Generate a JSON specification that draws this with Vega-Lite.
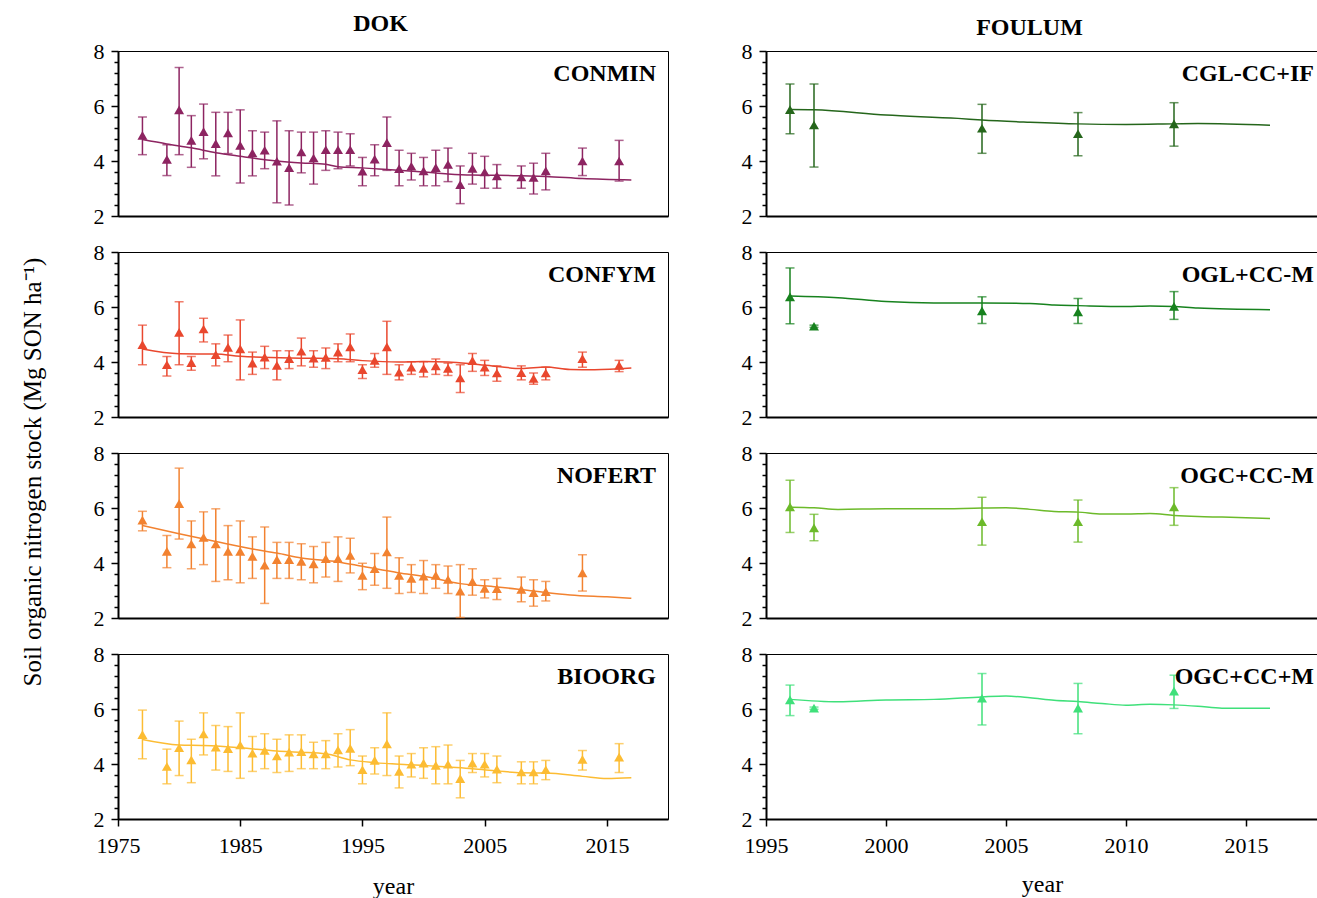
{
  "$schema": "https://vega.github.io/schema/vega-lite/v6.json",
  "background": "white",
  "padding": {"left": 20, "top": 11, "right": 0, "bottom": 0},
  "title": {"text": "Soil organic nitrogen stock (Mg SON ha⁻¹)", "orient": "left", "anchor": "middle", "fontSize": 25, "fontWeight": "normal", "offset": 47, "dx": -17},
  "datasets": {
    "d": [
      {"t":"CONMIN","k":"o","year":1977,"v":4.93,"lo":4.23,"hi":5.60},
      {"t":"CONMIN","k":"o","year":1979,"v":4.06,"lo":3.47,"hi":4.59},
      {"t":"CONMIN","k":"o","year":1980,"v":5.86,"lo":4.23,"hi":7.40},
      {"t":"CONMIN","k":"o","year":1981,"v":4.75,"lo":3.77,"hi":5.65},
      {"t":"CONMIN","k":"o","year":1982,"v":5.07,"lo":4.08,"hi":6.07},
      {"t":"CONMIN","k":"o","year":1983,"v":4.63,"lo":3.46,"hi":5.77},
      {"t":"CONMIN","k":"o","year":1984,"v":5.02,"lo":4.27,"hi":5.77},
      {"t":"CONMIN","k":"o","year":1985,"v":4.57,"lo":3.20,"hi":5.86},
      {"t":"CONMIN","k":"o","year":1986,"v":4.29,"lo":3.46,"hi":5.10},
      {"t":"CONMIN","k":"o","year":1987,"v":4.39,"lo":3.72,"hi":5.05},
      {"t":"CONMIN","k":"o","year":1988,"v":3.99,"lo":2.48,"hi":5.46},
      {"t":"CONMIN","k":"o","year":1989,"v":3.76,"lo":2.40,"hi":5.10},
      {"t":"CONMIN","k":"o","year":1990,"v":4.33,"lo":3.57,"hi":5.05},
      {"t":"CONMIN","k":"o","year":1991,"v":4.11,"lo":3.16,"hi":5.05},
      {"t":"CONMIN","k":"o","year":1992,"v":4.41,"lo":3.66,"hi":5.10},
      {"t":"CONMIN","k":"o","year":1993,"v":4.41,"lo":3.72,"hi":5.05},
      {"t":"CONMIN","k":"o","year":1994,"v":4.41,"lo":3.82,"hi":4.99},
      {"t":"CONMIN","k":"o","year":1995,"v":3.63,"lo":3.10,"hi":4.13},
      {"t":"CONMIN","k":"o","year":1996,"v":4.07,"lo":3.46,"hi":4.59},
      {"t":"CONMIN","k":"o","year":1997,"v":4.67,"lo":3.66,"hi":5.60},
      {"t":"CONMIN","k":"o","year":1998,"v":3.72,"lo":3.10,"hi":4.39},
      {"t":"CONMIN","k":"o","year":1999,"v":3.81,"lo":3.31,"hi":4.28},
      {"t":"CONMIN","k":"o","year":2000,"v":3.64,"lo":3.10,"hi":4.13},
      {"t":"CONMIN","k":"o","year":2001,"v":3.76,"lo":3.10,"hi":4.39},
      {"t":"CONMIN","k":"o","year":2002,"v":3.88,"lo":3.25,"hi":4.47},
      {"t":"CONMIN","k":"o","year":2003,"v":3.14,"lo":2.45,"hi":3.82},
      {"t":"CONMIN","k":"o","year":2004,"v":3.73,"lo":3.16,"hi":4.28},
      {"t":"CONMIN","k":"o","year":2005,"v":3.60,"lo":3.01,"hi":4.17},
      {"t":"CONMIN","k":"o","year":2006,"v":3.46,"lo":3.01,"hi":3.87},
      {"t":"CONMIN","k":"o","year":2008,"v":3.42,"lo":3.01,"hi":3.82},
      {"t":"CONMIN","k":"o","year":2009,"v":3.40,"lo":2.80,"hi":3.92},
      {"t":"CONMIN","k":"o","year":2010,"v":3.64,"lo":2.95,"hi":4.28},
      {"t":"CONMIN","k":"o","year":2013,"v":4.00,"lo":3.47,"hi":4.47},
      {"t":"CONMIN","k":"o","year":2016,"v":4.00,"lo":3.27,"hi":4.75},
      {"t":"CONMIN","k":"m","year":1977,"v":4.78},
      {"t":"CONMIN","k":"m","year":1979,"v":4.62},
      {"t":"CONMIN","k":"m","year":1981,"v":4.48},
      {"t":"CONMIN","k":"m","year":1983,"v":4.30},
      {"t":"CONMIN","k":"m","year":1985,"v":4.17},
      {"t":"CONMIN","k":"m","year":1988,"v":4.00},
      {"t":"CONMIN","k":"m","year":1990,"v":3.93},
      {"t":"CONMIN","k":"m","year":1992,"v":3.88},
      {"t":"CONMIN","k":"m","year":1993,"v":3.79},
      {"t":"CONMIN","k":"m","year":1995,"v":3.75},
      {"t":"CONMIN","k":"m","year":1997,"v":3.69},
      {"t":"CONMIN","k":"m","year":2000,"v":3.60},
      {"t":"CONMIN","k":"m","year":2002,"v":3.53},
      {"t":"CONMIN","k":"m","year":2004,"v":3.49},
      {"t":"CONMIN","k":"m","year":2006,"v":3.48},
      {"t":"CONMIN","k":"m","year":2008,"v":3.46},
      {"t":"CONMIN","k":"m","year":2010,"v":3.44},
      {"t":"CONMIN","k":"m","year":2013,"v":3.36},
      {"t":"CONMIN","k":"m","year":2017,"v":3.31},

      {"t":"CONFYM","k":"o","year":1977,"v":4.63,"lo":3.90,"hi":5.34},
      {"t":"CONFYM","k":"o","year":1979,"v":3.90,"lo":3.49,"hi":4.20},
      {"t":"CONFYM","k":"o","year":1980,"v":5.08,"lo":3.90,"hi":6.19},
      {"t":"CONFYM","k":"o","year":1981,"v":3.98,"lo":3.70,"hi":4.20},
      {"t":"CONFYM","k":"o","year":1982,"v":5.20,"lo":4.73,"hi":5.59},
      {"t":"CONFYM","k":"o","year":1983,"v":4.27,"lo":3.86,"hi":4.66},
      {"t":"CONFYM","k":"o","year":1984,"v":4.53,"lo":4.01,"hi":4.98},
      {"t":"CONFYM","k":"o","year":1985,"v":4.48,"lo":3.35,"hi":5.53},
      {"t":"CONFYM","k":"o","year":1986,"v":3.96,"lo":3.55,"hi":4.36},
      {"t":"CONFYM","k":"o","year":1987,"v":4.18,"lo":3.76,"hi":4.57},
      {"t":"CONFYM","k":"o","year":1988,"v":3.88,"lo":3.35,"hi":4.41},
      {"t":"CONFYM","k":"o","year":1989,"v":4.12,"lo":3.76,"hi":4.41},
      {"t":"CONFYM","k":"o","year":1990,"v":4.39,"lo":3.86,"hi":4.87},
      {"t":"CONFYM","k":"o","year":1991,"v":4.14,"lo":3.81,"hi":4.41},
      {"t":"CONFYM","k":"o","year":1992,"v":4.17,"lo":3.76,"hi":4.51},
      {"t":"CONFYM","k":"o","year":1993,"v":4.36,"lo":4.01,"hi":4.66},
      {"t":"CONFYM","k":"o","year":1994,"v":4.55,"lo":4.01,"hi":5.02},
      {"t":"CONFYM","k":"o","year":1995,"v":3.72,"lo":3.40,"hi":3.90},
      {"t":"CONFYM","k":"o","year":1996,"v":4.06,"lo":3.81,"hi":4.31},
      {"t":"CONFYM","k":"o","year":1997,"v":4.55,"lo":3.55,"hi":5.48},
      {"t":"CONFYM","k":"o","year":1998,"v":3.63,"lo":3.35,"hi":3.90},
      {"t":"CONFYM","k":"o","year":1999,"v":3.81,"lo":3.55,"hi":4.01},
      {"t":"CONFYM","k":"o","year":2000,"v":3.77,"lo":3.46,"hi":4.01},
      {"t":"CONFYM","k":"o","year":2001,"v":3.86,"lo":3.55,"hi":4.11},
      {"t":"CONFYM","k":"o","year":2002,"v":3.77,"lo":3.51,"hi":3.96},
      {"t":"CONFYM","k":"o","year":2003,"v":3.42,"lo":2.89,"hi":3.90},
      {"t":"CONFYM","k":"o","year":2004,"v":4.05,"lo":3.66,"hi":4.31},
      {"t":"CONFYM","k":"o","year":2005,"v":3.81,"lo":3.51,"hi":4.06},
      {"t":"CONFYM","k":"o","year":2006,"v":3.60,"lo":3.30,"hi":3.86},
      {"t":"CONFYM","k":"o","year":2008,"v":3.61,"lo":3.35,"hi":3.86},
      {"t":"CONFYM","k":"o","year":2009,"v":3.40,"lo":3.19,"hi":3.60},
      {"t":"CONFYM","k":"o","year":2010,"v":3.60,"lo":3.35,"hi":3.81},
      {"t":"CONFYM","k":"o","year":2013,"v":4.12,"lo":3.81,"hi":4.36},
      {"t":"CONFYM","k":"o","year":2016,"v":3.88,"lo":3.65,"hi":4.06},
      {"t":"CONFYM","k":"m","year":1977,"v":4.47},
      {"t":"CONFYM","k":"m","year":1980,"v":4.30},
      {"t":"CONFYM","k":"m","year":1983,"v":4.29},
      {"t":"CONFYM","k":"m","year":1985,"v":4.21},
      {"t":"CONFYM","k":"m","year":1990,"v":4.14},
      {"t":"CONFYM","k":"m","year":1993,"v":4.12},
      {"t":"CONFYM","k":"m","year":1995,"v":4.05},
      {"t":"CONFYM","k":"m","year":1998,"v":4.00},
      {"t":"CONFYM","k":"m","year":2000,"v":4.02},
      {"t":"CONFYM","k":"m","year":2002,"v":4.00},
      {"t":"CONFYM","k":"m","year":2004,"v":3.93},
      {"t":"CONFYM","k":"m","year":2006,"v":3.84},
      {"t":"CONFYM","k":"m","year":2008,"v":3.76},
      {"t":"CONFYM","k":"m","year":2010,"v":3.82},
      {"t":"CONFYM","k":"m","year":2012,"v":3.73},
      {"t":"CONFYM","k":"m","year":2014,"v":3.72},
      {"t":"CONFYM","k":"m","year":2017,"v":3.78},

      {"t":"NOFERT","k":"o","year":1977,"v":5.56,"lo":5.17,"hi":5.88},
      {"t":"NOFERT","k":"o","year":1979,"v":4.42,"lo":3.83,"hi":5.00},
      {"t":"NOFERT","k":"o","year":1980,"v":6.16,"lo":4.87,"hi":7.45},
      {"t":"NOFERT","k":"o","year":1981,"v":4.69,"lo":3.79,"hi":5.53},
      {"t":"NOFERT","k":"o","year":1982,"v":4.93,"lo":3.94,"hi":5.86},
      {"t":"NOFERT","k":"o","year":1983,"v":4.69,"lo":3.33,"hi":5.97},
      {"t":"NOFERT","k":"o","year":1984,"v":4.42,"lo":3.39,"hi":5.36},
      {"t":"NOFERT","k":"o","year":1985,"v":4.42,"lo":3.28,"hi":5.53},
      {"t":"NOFERT","k":"o","year":1986,"v":4.24,"lo":3.44,"hi":4.95},
      {"t":"NOFERT","k":"o","year":1987,"v":3.92,"lo":2.53,"hi":5.31},
      {"t":"NOFERT","k":"o","year":1988,"v":4.12,"lo":3.44,"hi":4.75},
      {"t":"NOFERT","k":"o","year":1989,"v":4.12,"lo":3.44,"hi":4.75},
      {"t":"NOFERT","k":"o","year":1990,"v":4.06,"lo":3.39,"hi":4.70},
      {"t":"NOFERT","k":"o","year":1991,"v":3.97,"lo":3.28,"hi":4.60},
      {"t":"NOFERT","k":"o","year":1992,"v":4.16,"lo":3.49,"hi":4.75},
      {"t":"NOFERT","k":"o","year":1993,"v":4.16,"lo":3.33,"hi":4.95},
      {"t":"NOFERT","k":"o","year":1994,"v":4.28,"lo":3.64,"hi":4.90},
      {"t":"NOFERT","k":"o","year":1995,"v":3.55,"lo":3.03,"hi":3.99},
      {"t":"NOFERT","k":"o","year":1996,"v":3.79,"lo":3.19,"hi":4.35},
      {"t":"NOFERT","k":"o","year":1997,"v":4.40,"lo":3.08,"hi":5.67},
      {"t":"NOFERT","k":"o","year":1998,"v":3.55,"lo":2.89,"hi":4.19},
      {"t":"NOFERT","k":"o","year":1999,"v":3.44,"lo":2.93,"hi":3.94},
      {"t":"NOFERT","k":"o","year":2000,"v":3.52,"lo":2.89,"hi":4.09},
      {"t":"NOFERT","k":"o","year":2001,"v":3.55,"lo":3.08,"hi":3.94},
      {"t":"NOFERT","k":"o","year":2002,"v":3.40,"lo":2.89,"hi":3.89},
      {"t":"NOFERT","k":"o","year":2003,"v":2.98,"lo":2.02,"hi":3.94},
      {"t":"NOFERT","k":"o","year":2004,"v":3.32,"lo":2.83,"hi":3.79},
      {"t":"NOFERT","k":"o","year":2005,"v":3.08,"lo":2.73,"hi":3.39},
      {"t":"NOFERT","k":"o","year":2006,"v":3.07,"lo":2.67,"hi":3.44},
      {"t":"NOFERT","k":"o","year":2008,"v":3.04,"lo":2.59,"hi":3.49},
      {"t":"NOFERT","k":"o","year":2009,"v":2.92,"lo":2.43,"hi":3.39},
      {"t":"NOFERT","k":"o","year":2010,"v":2.96,"lo":2.62,"hi":3.33},
      {"t":"NOFERT","k":"o","year":2013,"v":3.64,"lo":2.98,"hi":4.30},
      {"t":"NOFERT","k":"m","year":1977,"v":5.36},
      {"t":"NOFERT","k":"m","year":1980,"v":5.06},
      {"t":"NOFERT","k":"m","year":1983,"v":4.78},
      {"t":"NOFERT","k":"m","year":1986,"v":4.51},
      {"t":"NOFERT","k":"m","year":1988,"v":4.36},
      {"t":"NOFERT","k":"m","year":1990,"v":4.18},
      {"t":"NOFERT","k":"m","year":1993,"v":4.04},
      {"t":"NOFERT","k":"m","year":1995,"v":3.88},
      {"t":"NOFERT","k":"m","year":1998,"v":3.64},
      {"t":"NOFERT","k":"m","year":2000,"v":3.52},
      {"t":"NOFERT","k":"m","year":2003,"v":3.25},
      {"t":"NOFERT","k":"m","year":2006,"v":3.13},
      {"t":"NOFERT","k":"m","year":2009,"v":2.98},
      {"t":"NOFERT","k":"m","year":2012,"v":2.84},
      {"t":"NOFERT","k":"m","year":2015,"v":2.77},
      {"t":"NOFERT","k":"m","year":2017,"v":2.72},

      {"t":"BIOORG","k":"o","year":1977,"v":5.07,"lo":4.19,"hi":5.96},
      {"t":"BIOORG","k":"o","year":1979,"v":3.91,"lo":3.28,"hi":4.54},
      {"t":"BIOORG","k":"o","year":1980,"v":4.59,"lo":3.58,"hi":5.56},
      {"t":"BIOORG","k":"o","year":1981,"v":4.15,"lo":3.32,"hi":4.90},
      {"t":"BIOORG","k":"o","year":1982,"v":5.09,"lo":4.33,"hi":5.86},
      {"t":"BIOORG","k":"o","year":1983,"v":4.61,"lo":3.78,"hi":5.40},
      {"t":"BIOORG","k":"o","year":1984,"v":4.56,"lo":3.73,"hi":5.36},
      {"t":"BIOORG","k":"o","year":1985,"v":4.69,"lo":3.48,"hi":5.86},
      {"t":"BIOORG","k":"o","year":1986,"v":4.39,"lo":3.73,"hi":5.00},
      {"t":"BIOORG","k":"o","year":1987,"v":4.49,"lo":3.83,"hi":5.10},
      {"t":"BIOORG","k":"o","year":1988,"v":4.29,"lo":3.69,"hi":4.90},
      {"t":"BIOORG","k":"o","year":1989,"v":4.43,"lo":3.73,"hi":5.06},
      {"t":"BIOORG","k":"o","year":1990,"v":4.45,"lo":3.83,"hi":5.06},
      {"t":"BIOORG","k":"o","year":1991,"v":4.37,"lo":3.83,"hi":4.79},
      {"t":"BIOORG","k":"o","year":1992,"v":4.37,"lo":3.83,"hi":4.85},
      {"t":"BIOORG","k":"o","year":1993,"v":4.51,"lo":3.89,"hi":5.10},
      {"t":"BIOORG","k":"o","year":1994,"v":4.57,"lo":3.94,"hi":5.25},
      {"t":"BIOORG","k":"o","year":1995,"v":3.79,"lo":3.28,"hi":4.29},
      {"t":"BIOORG","k":"o","year":1996,"v":4.13,"lo":3.64,"hi":4.59},
      {"t":"BIOORG","k":"o","year":1997,"v":4.73,"lo":3.58,"hi":5.86},
      {"t":"BIOORG","k":"o","year":1998,"v":3.73,"lo":3.13,"hi":4.29},
      {"t":"BIOORG","k":"o","year":1999,"v":3.99,"lo":3.53,"hi":4.38},
      {"t":"BIOORG","k":"o","year":2000,"v":4.03,"lo":3.48,"hi":4.59},
      {"t":"BIOORG","k":"o","year":2001,"v":3.95,"lo":3.28,"hi":4.63},
      {"t":"BIOORG","k":"o","year":2002,"v":3.99,"lo":3.28,"hi":4.69},
      {"t":"BIOORG","k":"o","year":2003,"v":3.47,"lo":2.77,"hi":4.13},
      {"t":"BIOORG","k":"o","year":2004,"v":4.03,"lo":3.69,"hi":4.38},
      {"t":"BIOORG","k":"o","year":2005,"v":3.99,"lo":3.53,"hi":4.38},
      {"t":"BIOORG","k":"o","year":2006,"v":3.81,"lo":3.32,"hi":4.29},
      {"t":"BIOORG","k":"o","year":2008,"v":3.71,"lo":3.28,"hi":4.08},
      {"t":"BIOORG","k":"o","year":2009,"v":3.71,"lo":3.28,"hi":4.08},
      {"t":"BIOORG","k":"o","year":2010,"v":3.79,"lo":3.43,"hi":4.13},
      {"t":"BIOORG","k":"o","year":2013,"v":4.17,"lo":3.78,"hi":4.49},
      {"t":"BIOORG","k":"o","year":2016,"v":4.25,"lo":3.69,"hi":4.74},
      {"t":"BIOORG","k":"m","year":1977,"v":4.89},
      {"t":"BIOORG","k":"m","year":1980,"v":4.69},
      {"t":"BIOORG","k":"m","year":1982,"v":4.67},
      {"t":"BIOORG","k":"m","year":1985,"v":4.59},
      {"t":"BIOORG","k":"m","year":1988,"v":4.47},
      {"t":"BIOORG","k":"m","year":1990,"v":4.43},
      {"t":"BIOORG","k":"m","year":1992,"v":4.37},
      {"t":"BIOORG","k":"m","year":1994,"v":4.15},
      {"t":"BIOORG","k":"m","year":1996,"v":4.05},
      {"t":"BIOORG","k":"m","year":1998,"v":3.99},
      {"t":"BIOORG","k":"m","year":2000,"v":3.95},
      {"t":"BIOORG","k":"m","year":2002,"v":3.89},
      {"t":"BIOORG","k":"m","year":2004,"v":3.83},
      {"t":"BIOORG","k":"m","year":2006,"v":3.75},
      {"t":"BIOORG","k":"m","year":2008,"v":3.68},
      {"t":"BIOORG","k":"m","year":2010,"v":3.67},
      {"t":"BIOORG","k":"m","year":2013,"v":3.55},
      {"t":"BIOORG","k":"m","year":2015,"v":3.47},
      {"t":"BIOORG","k":"m","year":2017,"v":3.50},

      {"t":"CGL-CC+IF","k":"o","year":1996,"v":5.87,"lo":4.99,"hi":6.80},
      {"t":"CGL-CC+IF","k":"o","year":1997,"v":5.31,"lo":3.78,"hi":6.80},
      {"t":"CGL-CC+IF","k":"o","year":2004,"v":5.19,"lo":4.28,"hi":6.06},
      {"t":"CGL-CC+IF","k":"o","year":2008,"v":4.99,"lo":4.19,"hi":5.76},
      {"t":"CGL-CC+IF","k":"o","year":2012,"v":5.35,"lo":4.54,"hi":6.12},
      {"t":"CGL-CC+IF","k":"m","year":1996,"v":5.87},
      {"t":"CGL-CC+IF","k":"m","year":1997,"v":5.86},
      {"t":"CGL-CC+IF","k":"m","year":2000,"v":5.67},
      {"t":"CGL-CC+IF","k":"m","year":2003,"v":5.55},
      {"t":"CGL-CC+IF","k":"m","year":2004,"v":5.49},
      {"t":"CGL-CC+IF","k":"m","year":2006,"v":5.41},
      {"t":"CGL-CC+IF","k":"m","year":2008,"v":5.35},
      {"t":"CGL-CC+IF","k":"m","year":2010,"v":5.33},
      {"t":"CGL-CC+IF","k":"m","year":2012,"v":5.35},
      {"t":"CGL-CC+IF","k":"m","year":2013,"v":5.36},
      {"t":"CGL-CC+IF","k":"m","year":2016,"v":5.30},

      {"t":"OGL+CC-M","k":"o","year":1996,"v":6.37,"lo":5.39,"hi":7.42},
      {"t":"OGL+CC-M","k":"o","year":1997,"v":5.30,"lo":5.26,"hi":5.34},
      {"t":"OGL+CC-M","k":"o","year":2004,"v":5.86,"lo":5.40,"hi":6.37},
      {"t":"OGL+CC-M","k":"o","year":2008,"v":5.82,"lo":5.40,"hi":6.31},
      {"t":"OGL+CC-M","k":"o","year":2012,"v":6.02,"lo":5.55,"hi":6.56},
      {"t":"OGL+CC-M","k":"m","year":1996,"v":6.40},
      {"t":"OGL+CC-M","k":"m","year":1998,"v":6.34},
      {"t":"OGL+CC-M","k":"m","year":2000,"v":6.20},
      {"t":"OGL+CC-M","k":"m","year":2002,"v":6.15},
      {"t":"OGL+CC-M","k":"m","year":2004,"v":6.15},
      {"t":"OGL+CC-M","k":"m","year":2006,"v":6.13},
      {"t":"OGL+CC-M","k":"m","year":2007,"v":6.07},
      {"t":"OGL+CC-M","k":"m","year":2008,"v":6.05},
      {"t":"OGL+CC-M","k":"m","year":2010,"v":6.02},
      {"t":"OGL+CC-M","k":"m","year":2011,"v":6.04},
      {"t":"OGL+CC-M","k":"m","year":2012,"v":6.02},
      {"t":"OGL+CC-M","k":"m","year":2013,"v":5.96},
      {"t":"OGL+CC-M","k":"m","year":2016,"v":5.90},

      {"t":"OGC+CC-M","k":"o","year":1996,"v":6.04,"lo":5.11,"hi":7.01},
      {"t":"OGC+CC-M","k":"o","year":1997,"v":5.28,"lo":4.81,"hi":5.77},
      {"t":"OGC+CC-M","k":"o","year":2004,"v":5.50,"lo":4.65,"hi":6.39},
      {"t":"OGC+CC-M","k":"o","year":2008,"v":5.50,"lo":4.76,"hi":6.29},
      {"t":"OGC+CC-M","k":"o","year":2012,"v":6.04,"lo":5.37,"hi":6.74},
      {"t":"OGC+CC-M","k":"m","year":1996,"v":6.03},
      {"t":"OGC+CC-M","k":"m","year":1997,"v":6.01},
      {"t":"OGC+CC-M","k":"m","year":1998,"v":5.95},
      {"t":"OGC+CC-M","k":"m","year":2000,"v":5.97},
      {"t":"OGC+CC-M","k":"m","year":2002,"v":5.97},
      {"t":"OGC+CC-M","k":"m","year":2004,"v":6.00},
      {"t":"OGC+CC-M","k":"m","year":2005,"v":6.01},
      {"t":"OGC+CC-M","k":"m","year":2006,"v":5.95},
      {"t":"OGC+CC-M","k":"m","year":2007,"v":5.87},
      {"t":"OGC+CC-M","k":"m","year":2008,"v":5.85},
      {"t":"OGC+CC-M","k":"m","year":2009,"v":5.78},
      {"t":"OGC+CC-M","k":"m","year":2010,"v":5.78},
      {"t":"OGC+CC-M","k":"m","year":2011,"v":5.80},
      {"t":"OGC+CC-M","k":"m","year":2012,"v":5.73},
      {"t":"OGC+CC-M","k":"m","year":2013,"v":5.69},
      {"t":"OGC+CC-M","k":"m","year":2014,"v":5.67},
      {"t":"OGC+CC-M","k":"m","year":2016,"v":5.62},

      {"t":"OGC+CC+M","k":"o","year":1996,"v":6.33,"lo":5.76,"hi":6.87},
      {"t":"OGC+CC+M","k":"o","year":1997,"v":6.03,"lo":5.99,"hi":6.07},
      {"t":"OGC+CC+M","k":"o","year":2004,"v":6.39,"lo":5.42,"hi":7.29},
      {"t":"OGC+CC+M","k":"o","year":2008,"v":6.03,"lo":5.10,"hi":6.93},
      {"t":"OGC+CC+M","k":"o","year":2012,"v":6.65,"lo":6.02,"hi":7.23},
      {"t":"OGC+CC+M","k":"m","year":1996,"v":6.35},
      {"t":"OGC+CC+M","k":"m","year":1998,"v":6.26},
      {"t":"OGC+CC+M","k":"m","year":2000,"v":6.33},
      {"t":"OGC+CC+M","k":"m","year":2002,"v":6.35},
      {"t":"OGC+CC+M","k":"m","year":2004,"v":6.44},
      {"t":"OGC+CC+M","k":"m","year":2005,"v":6.47},
      {"t":"OGC+CC+M","k":"m","year":2006,"v":6.41},
      {"t":"OGC+CC+M","k":"m","year":2007,"v":6.32},
      {"t":"OGC+CC+M","k":"m","year":2008,"v":6.27},
      {"t":"OGC+CC+M","k":"m","year":2009,"v":6.20},
      {"t":"OGC+CC+M","k":"m","year":2010,"v":6.14},
      {"t":"OGC+CC+M","k":"m","year":2011,"v":6.17},
      {"t":"OGC+CC+M","k":"m","year":2012,"v":6.15},
      {"t":"OGC+CC+M","k":"m","year":2013,"v":6.10},
      {"t":"OGC+CC+M","k":"m","year":2014,"v":6.03},
      {"t":"OGC+CC+M","k":"m","year":2016,"v":6.03}
    ]
  },
  "data": {"name": "d"},
  "hconcat": [
    {
      "title": {"text": "DOK", "fontSize": 24, "fontWeight": "bold", "anchor": "middle", "offset": 4},
      "spacing": 12,
      "vconcat": [
        {
          "width": 550, "height": 165,
          "title": {"text": "CONMIN", "anchor": "end", "frame": "group", "offset": -46, "dx": -12, "fontSize": 24, "fontWeight": "bold"},
          "transform": [{"filter": "datum.t == 'CONMIN'"}],
          "encoding": {"x": {"field": "year", "type": "quantitative", "scale": {"domain": [1975, 2020], "nice": false, "zero": false}, "axis": {"labels": false, "ticks": false, "title": null}}},
          "layer": [
            {"transform": [{"filter": "datum.k == 'o'"}], "mark": {"type": "rule", "color": "#8d2461", "strokeWidth": 1.5}, "encoding": {"y": {"field": "lo", "type": "quantitative", "scale": {"domain": [2, 8], "nice": false, "zero": false}, "axis": {"values": [2,2.4,2.8,3.2,3.6,4,4.4,4.8,5.2,5.6,6,6.4,6.8,7.2,7.6,8], "tickCount": 40, "labelExpr": "datum.value % 2 == 0 ? '' + datum.value : ''", "labelOverlap": false, "labelFlush": false, "labelPadding": 7, "tickSize": {"condition": {"test": "datum.value % 2 == 0", "value": 7}, "value": 4}, "title": null}}, "y2": {"field": "hi"}}},
            {"transform": [{"filter": "datum.k == 'o'"}], "mark": {"type": "tick", "orient": "horizontal", "color": "#8d2461", "size": 9, "thickness": 1.5}, "encoding": {"y": {"field": "lo", "type": "quantitative", "title": null}}},
            {"transform": [{"filter": "datum.k == 'o'"}], "mark": {"type": "tick", "orient": "horizontal", "color": "#8d2461", "size": 9, "thickness": 1.5}, "encoding": {"y": {"field": "hi", "type": "quantitative", "title": null}}},
            {"transform": [{"filter": "datum.k == 'o'"}], "mark": {"type": "point", "shape": "triangle-up", "filled": true, "opacity": 1, "color": "#8d2461", "size": 100}, "encoding": {"y": {"field": "v", "type": "quantitative", "title": null}}},
            {"transform": [{"filter": "datum.k == 'm'"}], "mark": {"type": "line", "color": "#8d2461", "strokeWidth": 1.5, "interpolate": "monotone"}, "encoding": {"y": {"field": "v", "type": "quantitative", "title": null}}}
          ]
        },
        {
          "width": 550, "height": 165,
          "title": {"text": "CONFYM", "anchor": "end", "frame": "group", "offset": -46, "dx": -12, "fontSize": 24, "fontWeight": "bold"},
          "transform": [{"filter": "datum.t == 'CONFYM'"}],
          "encoding": {"x": {"field": "year", "type": "quantitative", "scale": {"domain": [1975, 2020], "nice": false, "zero": false}, "axis": {"labels": false, "ticks": false, "title": null}}},
          "layer": [
            {"transform": [{"filter": "datum.k == 'o'"}], "mark": {"type": "rule", "color": "#e9472e", "strokeWidth": 1.5}, "encoding": {"y": {"field": "lo", "type": "quantitative", "scale": {"domain": [2, 8], "nice": false, "zero": false}, "axis": {"values": [2,2.4,2.8,3.2,3.6,4,4.4,4.8,5.2,5.6,6,6.4,6.8,7.2,7.6,8], "tickCount": 40, "labelExpr": "datum.value % 2 == 0 ? '' + datum.value : ''", "labelOverlap": false, "labelFlush": false, "labelPadding": 7, "tickSize": {"condition": {"test": "datum.value % 2 == 0", "value": 7}, "value": 4}, "title": null}}, "y2": {"field": "hi"}}},
            {"transform": [{"filter": "datum.k == 'o'"}], "mark": {"type": "tick", "orient": "horizontal", "color": "#e9472e", "size": 9, "thickness": 1.5}, "encoding": {"y": {"field": "lo", "type": "quantitative", "title": null}}},
            {"transform": [{"filter": "datum.k == 'o'"}], "mark": {"type": "tick", "orient": "horizontal", "color": "#e9472e", "size": 9, "thickness": 1.5}, "encoding": {"y": {"field": "hi", "type": "quantitative", "title": null}}},
            {"transform": [{"filter": "datum.k == 'o'"}], "mark": {"type": "point", "shape": "triangle-up", "filled": true, "opacity": 1, "color": "#e9472e", "size": 100}, "encoding": {"y": {"field": "v", "type": "quantitative", "title": null}}},
            {"transform": [{"filter": "datum.k == 'm'"}], "mark": {"type": "line", "color": "#e9472e", "strokeWidth": 1.5, "interpolate": "monotone"}, "encoding": {"y": {"field": "v", "type": "quantitative", "title": null}}}
          ]
        },
        {
          "width": 550, "height": 165,
          "title": {"text": "NOFERT", "anchor": "end", "frame": "group", "offset": -46, "dx": -12, "fontSize": 24, "fontWeight": "bold"},
          "transform": [{"filter": "datum.t == 'NOFERT'"}],
          "encoding": {"x": {"field": "year", "type": "quantitative", "scale": {"domain": [1975, 2020], "nice": false, "zero": false}, "axis": {"labels": false, "ticks": false, "title": null}}},
          "layer": [
            {"transform": [{"filter": "datum.k == 'o'"}], "mark": {"type": "rule", "color": "#f28230", "strokeWidth": 1.5}, "encoding": {"y": {"field": "lo", "type": "quantitative", "scale": {"domain": [2, 8], "nice": false, "zero": false}, "axis": {"values": [2,2.4,2.8,3.2,3.6,4,4.4,4.8,5.2,5.6,6,6.4,6.8,7.2,7.6,8], "tickCount": 40, "labelExpr": "datum.value % 2 == 0 ? '' + datum.value : ''", "labelOverlap": false, "labelFlush": false, "labelPadding": 7, "tickSize": {"condition": {"test": "datum.value % 2 == 0", "value": 7}, "value": 4}, "title": null}}, "y2": {"field": "hi"}}},
            {"transform": [{"filter": "datum.k == 'o'"}], "mark": {"type": "tick", "orient": "horizontal", "color": "#f28230", "size": 9, "thickness": 1.5}, "encoding": {"y": {"field": "lo", "type": "quantitative", "title": null}}},
            {"transform": [{"filter": "datum.k == 'o'"}], "mark": {"type": "tick", "orient": "horizontal", "color": "#f28230", "size": 9, "thickness": 1.5}, "encoding": {"y": {"field": "hi", "type": "quantitative", "title": null}}},
            {"transform": [{"filter": "datum.k == 'o'"}], "mark": {"type": "point", "shape": "triangle-up", "filled": true, "opacity": 1, "color": "#f28230", "size": 100}, "encoding": {"y": {"field": "v", "type": "quantitative", "title": null}}},
            {"transform": [{"filter": "datum.k == 'm'"}], "mark": {"type": "line", "color": "#f28230", "strokeWidth": 1.5, "interpolate": "monotone"}, "encoding": {"y": {"field": "v", "type": "quantitative", "title": null}}}
          ]
        },
        {
          "width": 550, "height": 165,
          "title": {"text": "BIOORG", "anchor": "end", "frame": "group", "offset": -46, "dx": -12, "fontSize": 24, "fontWeight": "bold"},
          "transform": [{"filter": "datum.t == 'BIOORG'"}],
          "encoding": {"x": {"field": "year", "type": "quantitative", "scale": {"domain": [1975, 2020], "nice": false, "zero": false}, "axis": {"values": [1975, 1985, 1995, 2005, 2015], "format": "d", "labelFlush": false, "tickSize": 7, "labelPadding": 9, "title": "year", "titlePadding": 18}}},
          "layer": [
            {"transform": [{"filter": "datum.k == 'o'"}], "mark": {"type": "rule", "color": "#fcbc33", "strokeWidth": 1.5}, "encoding": {"y": {"field": "lo", "type": "quantitative", "scale": {"domain": [2, 8], "nice": false, "zero": false}, "axis": {"values": [2,2.4,2.8,3.2,3.6,4,4.4,4.8,5.2,5.6,6,6.4,6.8,7.2,7.6,8], "tickCount": 40, "labelExpr": "datum.value % 2 == 0 ? '' + datum.value : ''", "labelOverlap": false, "labelFlush": false, "labelPadding": 7, "tickSize": {"condition": {"test": "datum.value % 2 == 0", "value": 7}, "value": 4}, "title": null}}, "y2": {"field": "hi"}}},
            {"transform": [{"filter": "datum.k == 'o'"}], "mark": {"type": "tick", "orient": "horizontal", "color": "#fcbc33", "size": 9, "thickness": 1.5}, "encoding": {"y": {"field": "lo", "type": "quantitative", "title": null}}},
            {"transform": [{"filter": "datum.k == 'o'"}], "mark": {"type": "tick", "orient": "horizontal", "color": "#fcbc33", "size": 9, "thickness": 1.5}, "encoding": {"y": {"field": "hi", "type": "quantitative", "title": null}}},
            {"transform": [{"filter": "datum.k == 'o'"}], "mark": {"type": "point", "shape": "triangle-up", "filled": true, "opacity": 1, "color": "#fcbc33", "size": 100}, "encoding": {"y": {"field": "v", "type": "quantitative", "title": null}}},
            {"transform": [{"filter": "datum.k == 'm'"}], "mark": {"type": "line", "color": "#fcbc33", "strokeWidth": 1.5, "interpolate": "monotone"}, "encoding": {"y": {"field": "v", "type": "quantitative", "title": null}}}
          ]
        }
      ]
    },
    {
      "title": {"text": "FOULUM", "fontSize": 24, "fontWeight": "bold", "anchor": "middle", "offset": 0},
      "spacing": 12,
      "vconcat": [
        {
          "width": 552, "height": 165,
          "title": {"text": "CGL-CC+IF", "anchor": "end", "frame": "group", "offset": -46, "dx": -4, "fontSize": 24, "fontWeight": "bold"},
          "transform": [{"filter": "datum.t == 'CGL-CC+IF'"}],
          "encoding": {"x": {"field": "year", "type": "quantitative", "scale": {"domain": [1995, 2018], "nice": false, "zero": false}, "axis": {"labels": false, "ticks": false, "title": null}}},
          "layer": [
            {"transform": [{"filter": "datum.k == 'o'"}], "mark": {"type": "rule", "color": "#25661b", "strokeWidth": 1.5}, "encoding": {"y": {"field": "lo", "type": "quantitative", "scale": {"domain": [2, 8], "nice": false, "zero": false}, "axis": {"values": [2,2.4,2.8,3.2,3.6,4,4.4,4.8,5.2,5.6,6,6.4,6.8,7.2,7.6,8], "tickCount": 40, "labelExpr": "datum.value % 2 == 0 ? '' + datum.value : ''", "labelOverlap": false, "labelFlush": false, "labelPadding": 7, "tickSize": {"condition": {"test": "datum.value % 2 == 0", "value": 7}, "value": 4}, "title": null}}, "y2": {"field": "hi"}}},
            {"transform": [{"filter": "datum.k == 'o'"}], "mark": {"type": "tick", "orient": "horizontal", "color": "#25661b", "size": 9, "thickness": 1.5}, "encoding": {"y": {"field": "lo", "type": "quantitative", "title": null}}},
            {"transform": [{"filter": "datum.k == 'o'"}], "mark": {"type": "tick", "orient": "horizontal", "color": "#25661b", "size": 9, "thickness": 1.5}, "encoding": {"y": {"field": "hi", "type": "quantitative", "title": null}}},
            {"transform": [{"filter": "datum.k == 'o'"}], "mark": {"type": "point", "shape": "triangle-up", "filled": true, "opacity": 1, "color": "#25661b", "size": 100}, "encoding": {"y": {"field": "v", "type": "quantitative", "title": null}}},
            {"transform": [{"filter": "datum.k == 'm'"}], "mark": {"type": "line", "color": "#25661b", "strokeWidth": 1.5, "interpolate": "monotone"}, "encoding": {"y": {"field": "v", "type": "quantitative", "title": null}}}
          ]
        },
        {
          "width": 552, "height": 165,
          "title": {"text": "OGL+CC-M", "anchor": "end", "frame": "group", "offset": -46, "dx": -4, "fontSize": 24, "fontWeight": "bold"},
          "transform": [{"filter": "datum.t == 'OGL+CC-M'"}],
          "encoding": {"x": {"field": "year", "type": "quantitative", "scale": {"domain": [1995, 2018], "nice": false, "zero": false}, "axis": {"labels": false, "ticks": false, "title": null}}},
          "layer": [
            {"transform": [{"filter": "datum.k == 'o'"}], "mark": {"type": "rule", "color": "#17821e", "strokeWidth": 1.5}, "encoding": {"y": {"field": "lo", "type": "quantitative", "scale": {"domain": [2, 8], "nice": false, "zero": false}, "axis": {"values": [2,2.4,2.8,3.2,3.6,4,4.4,4.8,5.2,5.6,6,6.4,6.8,7.2,7.6,8], "tickCount": 40, "labelExpr": "datum.value % 2 == 0 ? '' + datum.value : ''", "labelOverlap": false, "labelFlush": false, "labelPadding": 7, "tickSize": {"condition": {"test": "datum.value % 2 == 0", "value": 7}, "value": 4}, "title": null}}, "y2": {"field": "hi"}}},
            {"transform": [{"filter": "datum.k == 'o'"}], "mark": {"type": "tick", "orient": "horizontal", "color": "#17821e", "size": 9, "thickness": 1.5}, "encoding": {"y": {"field": "lo", "type": "quantitative", "title": null}}},
            {"transform": [{"filter": "datum.k == 'o'"}], "mark": {"type": "tick", "orient": "horizontal", "color": "#17821e", "size": 9, "thickness": 1.5}, "encoding": {"y": {"field": "hi", "type": "quantitative", "title": null}}},
            {"transform": [{"filter": "datum.k == 'o'"}], "mark": {"type": "point", "shape": "triangle-up", "filled": true, "opacity": 1, "color": "#17821e", "size": 100}, "encoding": {"y": {"field": "v", "type": "quantitative", "title": null}}},
            {"transform": [{"filter": "datum.k == 'm'"}], "mark": {"type": "line", "color": "#17821e", "strokeWidth": 1.5, "interpolate": "monotone"}, "encoding": {"y": {"field": "v", "type": "quantitative", "title": null}}}
          ]
        },
        {
          "width": 552, "height": 165,
          "title": {"text": "OGC+CC-M", "anchor": "end", "frame": "group", "offset": -46, "dx": -4, "fontSize": 24, "fontWeight": "bold"},
          "transform": [{"filter": "datum.t == 'OGC+CC-M'"}],
          "encoding": {"x": {"field": "year", "type": "quantitative", "scale": {"domain": [1995, 2018], "nice": false, "zero": false}, "axis": {"labels": false, "ticks": false, "title": null}}},
          "layer": [
            {"transform": [{"filter": "datum.k == 'o'"}], "mark": {"type": "rule", "color": "#6cba2a", "strokeWidth": 1.5}, "encoding": {"y": {"field": "lo", "type": "quantitative", "scale": {"domain": [2, 8], "nice": false, "zero": false}, "axis": {"values": [2,2.4,2.8,3.2,3.6,4,4.4,4.8,5.2,5.6,6,6.4,6.8,7.2,7.6,8], "tickCount": 40, "labelExpr": "datum.value % 2 == 0 ? '' + datum.value : ''", "labelOverlap": false, "labelFlush": false, "labelPadding": 7, "tickSize": {"condition": {"test": "datum.value % 2 == 0", "value": 7}, "value": 4}, "title": null}}, "y2": {"field": "hi"}}},
            {"transform": [{"filter": "datum.k == 'o'"}], "mark": {"type": "tick", "orient": "horizontal", "color": "#6cba2a", "size": 9, "thickness": 1.5}, "encoding": {"y": {"field": "lo", "type": "quantitative", "title": null}}},
            {"transform": [{"filter": "datum.k == 'o'"}], "mark": {"type": "tick", "orient": "horizontal", "color": "#6cba2a", "size": 9, "thickness": 1.5}, "encoding": {"y": {"field": "hi", "type": "quantitative", "title": null}}},
            {"transform": [{"filter": "datum.k == 'o'"}], "mark": {"type": "point", "shape": "triangle-up", "filled": true, "opacity": 1, "color": "#6cba2a", "size": 100}, "encoding": {"y": {"field": "v", "type": "quantitative", "title": null}}},
            {"transform": [{"filter": "datum.k == 'm'"}], "mark": {"type": "line", "color": "#6cba2a", "strokeWidth": 1.5, "interpolate": "monotone"}, "encoding": {"y": {"field": "v", "type": "quantitative", "title": null}}}
          ]
        },
        {
          "width": 552, "height": 165,
          "title": {"text": "OGC+CC+M", "anchor": "end", "frame": "group", "offset": -46, "dx": -4, "fontSize": 24, "fontWeight": "bold"},
          "transform": [{"filter": "datum.t == 'OGC+CC+M'"}],
          "encoding": {"x": {"field": "year", "type": "quantitative", "scale": {"domain": [1995, 2018], "nice": false, "zero": false}, "axis": {"values": [1995, 2000, 2005, 2010, 2015], "format": "d", "labelFlush": false, "tickSize": 7, "labelPadding": 9, "title": "year", "titlePadding": 16}}},
          "layer": [
            {"transform": [{"filter": "datum.k == 'o'"}], "mark": {"type": "rule", "color": "#3fe07a", "strokeWidth": 1.5}, "encoding": {"y": {"field": "lo", "type": "quantitative", "scale": {"domain": [2, 8], "nice": false, "zero": false}, "axis": {"values": [2,2.4,2.8,3.2,3.6,4,4.4,4.8,5.2,5.6,6,6.4,6.8,7.2,7.6,8], "tickCount": 40, "labelExpr": "datum.value % 2 == 0 ? '' + datum.value : ''", "labelOverlap": false, "labelFlush": false, "labelPadding": 7, "tickSize": {"condition": {"test": "datum.value % 2 == 0", "value": 7}, "value": 4}, "title": null}}, "y2": {"field": "hi"}}},
            {"transform": [{"filter": "datum.k == 'o'"}], "mark": {"type": "tick", "orient": "horizontal", "color": "#3fe07a", "size": 9, "thickness": 1.5}, "encoding": {"y": {"field": "lo", "type": "quantitative", "title": null}}},
            {"transform": [{"filter": "datum.k == 'o'"}], "mark": {"type": "tick", "orient": "horizontal", "color": "#3fe07a", "size": 9, "thickness": 1.5}, "encoding": {"y": {"field": "hi", "type": "quantitative", "title": null}}},
            {"transform": [{"filter": "datum.k == 'o'"}], "mark": {"type": "point", "shape": "triangle-up", "filled": true, "opacity": 1, "color": "#3fe07a", "size": 100}, "encoding": {"y": {"field": "v", "type": "quantitative", "title": null}}},
            {"transform": [{"filter": "datum.k == 'm'"}], "mark": {"type": "line", "color": "#3fe07a", "strokeWidth": 1.5, "interpolate": "monotone"}, "encoding": {"y": {"field": "v", "type": "quantitative", "title": null}}}
          ]
        }
      ]
    }
  ],
  "spacing": 71,
  "config": {
    "font": "Liberation Serif",
    "view": {"stroke": "black", "strokeWidth": 1},
    "axis": {"grid": false, "domainColor": "black", "domainWidth": 2, "tickColor": "black", "tickWidth": 1.5, "labelColor": "black", "labelFont": "Liberation Serif", "labelFontSize": 22, "labelPadding": 4, "titleFont": "Liberation Serif", "titleFontSize": 24, "titleFontWeight": "normal", "titleColor": "black"},
    "title": {"font": "Liberation Serif", "color": "black"}
  }
}
